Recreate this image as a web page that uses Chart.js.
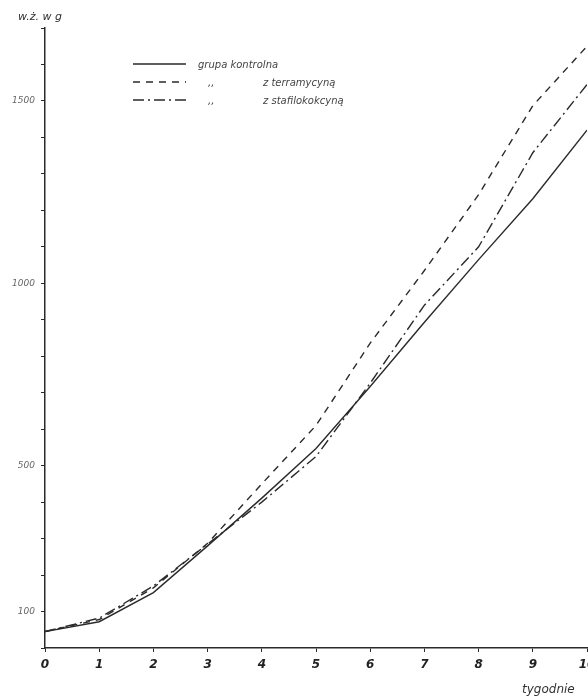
<!DOCTYPE html>
<html>
<head>
<meta charset="utf-8">
<script src="https://cdn.jsdelivr.net/npm/chart.js@4"></script>
<style>
  html, body { margin: 0; padding: 0; background: #fff; }
  #wrap { width: 588px; height: 700px; position: relative; }
</style>
</head>
<body>
<div id="wrap"><canvas id="chart" width="588" height="700"></canvas></div>
<script>
const weeks = [0, 1, 2, 3, 4, 5, 6, 7, 8, 9, 10];
const kontrolna = [45, 72, 152, 280, 411, 547, 717, 893, 1065, 1232, 1420];
const terramycyna = [45, 78, 165, 287, 450, 610, 836, 1035, 1243, 1487, 1650];
const stafilokokcyna = [45, 82, 170, 285, 400, 525, 726, 940, 1100, 1358, 1545];

const seriesNames = ['grupa kontrolna', 'z terramycyną', 'z stafilokokcyną'];
const yLabelled = [100, 500, 1000, 1500];

const INK = '#2a2a2a';

function toPoints(vals) {
  return weeks.map((w, i) => ({ x: w, y: vals[i] }));
}

// axis titles + hand-drawn style legend
const decor = {
  id: 'decor',
  afterDraw(chart) {
    const ctx = chart.ctx;
    ctx.save();
    ctx.fillStyle = '#333';
    ctx.font = 'italic 11px "DejaVu Sans"';
    ctx.textBaseline = 'middle';
    ctx.fillText('w.ż. w g', 18, 17);
    ctx.font = 'italic 12px "DejaVu Sans"';
    ctx.fillText('tygodnie', 522, 690);

    // legend
    const rows = [64, 82, 100];
    ctx.font = 'italic 10px "DejaVu Sans"';
    ctx.fillStyle = '#444';
    chart.data.datasets.forEach((ds, i) => {
      const y = rows[i];
      ctx.beginPath();
      ctx.strokeStyle = INK;
      ctx.lineWidth = 1.4;
      ctx.setLineDash(ds.borderDash || []);
      ctx.moveTo(133, y);
      ctx.lineTo(186, y);
      ctx.stroke();
      if (i === 0) {
        ctx.fillText(seriesNames[i], 198, y + 1);
      } else {
        ctx.fillText(',,', 208, y + 1);
        ctx.fillText(seriesNames[i], 263, y + 1);
      }
    });
    ctx.restore();
  },
};

new Chart(document.getElementById('chart'), {
  type: 'line',
  data: {
    datasets: [
      { label: seriesNames[0], data: toPoints(kontrolna), borderDash: [] },
      { label: seriesNames[1], data: toPoints(terramycyna), borderDash: [7, 6] },
      { label: seriesNames[2], data: toPoints(stafilokokcyna), borderDash: [11, 4, 2, 4] },
    ].map((d) => ({
      ...d,
      borderColor: INK,
      borderWidth: 1.4,
      pointRadius: 0,
      tension: 0,
      fill: false,
    })),
  },
  options: {
    responsive: false,
    animation: false,
    layout: { padding: { top: 28, right: 1, left: 0, bottom: 0 } },
    plugins: { legend: { display: false }, tooltip: { enabled: false } },
    scales: {
      x: {
        type: 'linear',
        min: 0,
        max: 10,
        ticks: {
          stepSize: 1,
          color: '#222',
          font: { family: 'DejaVu Sans', style: 'italic', size: 12, weight: 'bold' },
          padding: 6,
        },
        grid: { drawOnChartArea: false, tickLength: 4, color: INK },
        border: { color: INK, width: 1.5 },
        afterFit: (s) => {
          s.height = 52;
          s.paddingLeft = 0;
          s.paddingRight = 0;
        },
      },
      y: {
        min: 0,
        max: 1700,
        ticks: {
          stepSize: 100,
          color: '#666',
          font: { family: 'DejaVu Sans', style: 'italic', size: 9 },
          padding: 6,
          callback: (v) => (yLabelled.includes(v) ? String(v) : ''),
        },
        grid: { drawOnChartArea: false, tickLength: 4, color: INK },
        border: { color: INK, width: 1.5 },
        afterFit: (s) => { s.width = 45; },
      },
    },
  },
  plugins: [decor],
});
</script>
</body>
</html>
